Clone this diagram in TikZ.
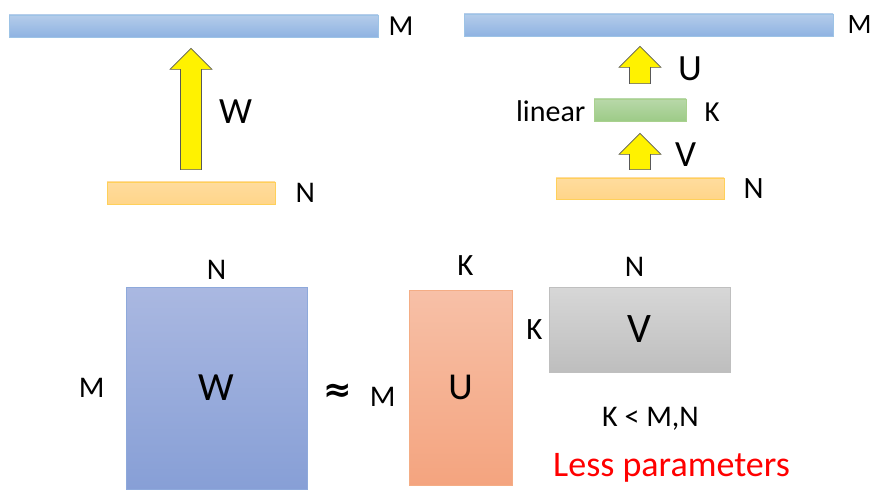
\documentclass[tikz,border=0pt]{standalone}
\usepackage{fontspec}
\setmainfont{Carlito}
\newfontfamily\dvsans{DejaVu Sans}
\usetikzlibrary{positioning, calc}

\definecolor{blueT}{HTML}{B4CCEA}
\definecolor{blueB}{HTML}{8FB3E2}
\definecolor{blueD}{HTML}{9DC3E6}
\definecolor{orangeT}{HTML}{FFDC9E}
\definecolor{orangeB}{HTML}{FFD589}
\definecolor{orangeD}{HTML}{FFD05A}
\definecolor{greenT}{HTML}{B8D8A9}
\definecolor{greenB}{HTML}{9DCB87}
\definecolor{greenD}{HTML}{A9D18E}
\definecolor{wT}{HTML}{AAB8E1}
\definecolor{wB}{HTML}{879FD6}
\definecolor{wD}{HTML}{8EA9DB}
\definecolor{uT}{HTML}{F7C0A7}
\definecolor{uB}{HTML}{F4A47F}
\definecolor{uD}{HTML}{F4AD85}
\definecolor{vT}{HTML}{D7D7D7}
\definecolor{vB}{HTML}{BEBEBE}
\definecolor{vD}{HTML}{BFBFBF}

\tikzset{
  bar/.style={rectangle, draw, inner sep=0pt, line width=0.8pt},
  lbl/.style={inner sep=0pt, font=\fontsize{#1}{#1}\selectfont},
  yarrow/.style={fill=yellow, draw=black!65, line width=0.6pt, line join=miter},
}

% block arrow from #1 (bottom) up to #2 (tip)
\newcommand\upArrow[2]{%
  \draw[yarrow] let \p1=(#1), \p2=(#2) in
    (\x1-10.5,\y1) -- (\x1-10.5,\y2-21) -- (\x1-21,\y2-21) -- (\x1,\y2)
    -- (\x1+21,\y2-21) -- (\x1+10.5,\y2-21) -- (\x1+10.5,\y1) -- cycle;}

\begin{document}
\begin{tikzpicture}[x=1pt, y=-1pt]
    \useasboundingbox (0,0) rectangle (882,502);

    % full layer
    \node [bar, draw=blueD, top color=blueT, bottom color=blueB, minimum width=369pt, minimum height=22pt] (outL) at (193.5,26) {};
    \node [bar, draw=orangeD, top color=orangeT, bottom color=orangeB, minimum width=168pt, minimum height=22pt] (inL) at (191,193) {};
    \node [lbl=29, right=10pt of outL] (outLm) {M};
    \node [lbl=30, right=20pt of inL] (inLn) {N};
    \coordinate (wBot) at ([yshift=12pt]inL.north);
    \coordinate (wTop) at ([yshift=-11pt]outL.south);
    \upArrow{wBot}{wTop}
    \node [lbl=37, anchor=west] (wLbl) at (219,111.5) {W};

    % low rank layer
    \node [bar, draw=blueD, top color=blueT, bottom color=blueB, minimum width=369pt, minimum height=22pt] (outR) at (648.5,25) {};
    \node [bar, draw=greenD, top color=greenT, bottom color=greenB, minimum width=92pt, minimum height=22pt] (lin) at (640,110) {};
    \node [bar, draw=orangeD, top color=orangeT, bottom color=orangeB, minimum width=168pt, minimum height=21pt] (inR) at (640,188.5) {};
    \node [lbl=28, right=14pt of outR] (outRm) {M};
    \node [lbl=30, left=8pt of lin, yshift=-1pt] (linLbl) {linear};
    \node [lbl=29, right=18pt of lin, yshift=-2pt] (linK) {K};
    \node [lbl=31, right=19pt of inR] (inRn) {N};
    \coordinate (uBot) at ([yshift=15pt]lin.north);
    \coordinate (uTop) at ([yshift=-10pt]outR.south);
    \coordinate (vBot) at ([yshift=8pt]inR.north);
    \coordinate (vTop) at ([yshift=-12pt]lin.south);
    \upArrow{uBot}{uTop}
    \upArrow{vBot}{vTop}
    \node [lbl=37, anchor=west] (uLbl) at (678,69) {U};
    \node [lbl=37, anchor=west] (vLbl) at (675,155) {V};

    % matrices
    \node [bar, draw=wD, top color=wT, bottom color=wB, minimum width=181pt, minimum height=202pt, font=\fontsize{40}{40}\selectfont] (matW) at (216.5,388) {W};
    \node [lbl=30, above=7pt of matW] (matWn) {N};
    \node [lbl=30, left=21pt of matW] (matWm) {M};
    \node [inner sep=0pt, font=\dvsans\bfseries\fontsize{34}{34}\selectfont] (aprx) at (338,393) {≈};
    \node [bar, draw=uD, top color=uT, bottom color=uB, minimum width=103pt, minimum height=195pt, font=\fontsize{38}{38}\selectfont] (matU) at (460.5,387.5) {U};
    \node [lbl=30, left=13pt of matU, yshift=-9pt] (matUm) {M};
    \node [lbl=31, above=14pt of matU, xshift=5pt] (matUk) {K};
    \node [bar, draw=vD, top color=vT, bottom color=vB, minimum width=181pt, minimum height=85pt, font=\fontsize{42}{42}\selectfont] (matV) at (639.5,329.5) {V};
    \node [lbl=30, above=10pt of matV, xshift=-5pt] (matVn) {N};
    \node [lbl=31, left=6pt of matV] (matVk) {K};
    \node [lbl=30, anchor=base] (cond) at (650.5,426) {K < M,N};
    \node [lbl=36, anchor=base west, text=red] (less) at (553,476.7) {Less parameters};
\end{tikzpicture}
\end{document}
